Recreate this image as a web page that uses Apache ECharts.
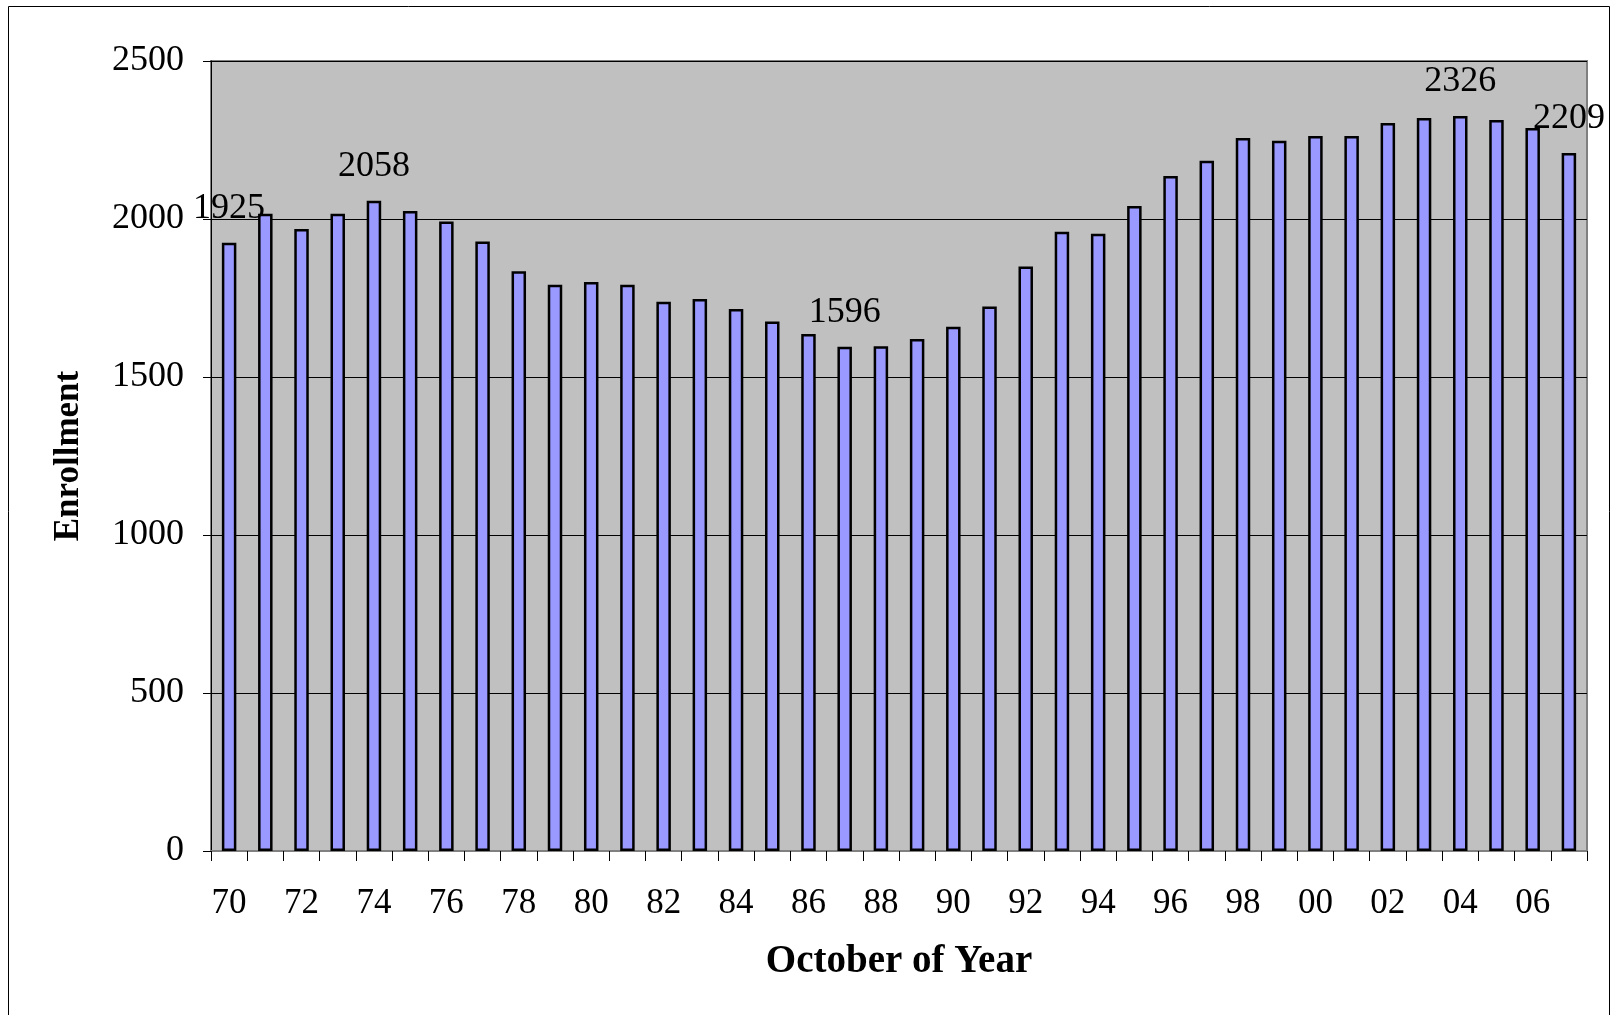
<!DOCTYPE html>
<html>
<head>
<meta charset="utf-8">
<script src="https://cdn.jsdelivr.net/npm/echarts@6/dist/echarts.min.js"></script>
<style>
  html, body { margin: 0; padding: 0; background: #fff; }
  #chart { width: 1612px; height: 1015px; }
</style>
</head>
<body>
<div id="chart"></div>
<script>
  // school years, October counts
  var years = ['70','71','72','73','74','75','76','77','78','79',
               '80','81','82','83','84','85','86','87','88','89',
               '90','91','92','93','94','95','96','97','98','99',
               '00','01','02','03','04','05','06','07'];
  var enrollment = [1925, 2017, 1968, 2017, 2058, 2025, 1992, 1929, 1835, 1792,
                    1801, 1792, 1738, 1747, 1715, 1676, 1636, 1596, 1597, 1620,
                    1659, 1723, 1850, 1960, 1953, 2041, 2136, 2184, 2256, 2248,
                    2263, 2263, 2304, 2320, 2326, 2313, 2288, 2209];
  var labeledYears = ['70', '74', '87', '04', '07'];
  var yTicks = [0, 500, 1000, 1500, 2000, 2500];

  var font = '"Liberation Serif", "Times New Roman", serif';

  var seriesData = enrollment.map(function (v, i) {
    var item = { value: v };
    if (labeledYears.indexOf(years[i]) >= 0) {
      item.label = { show: true };
    }
    return item;
  });

  var myChart = echarts.init(document.getElementById('chart'));
  var option = {
    animation: false,
    backgroundColor: '#fff',
    graphic: [
      {
        type: 'rect',
        shape: { x: 8.5, y: 6.5, width: 1601, height: 1020 },
        style: { fill: 'none', stroke: '#000', lineWidth: 1 },
        silent: true
      }
    ],
    grid: {
      left: 211,
      top: 61,
      right: 25,
      bottom: 164,
      show: true,
      backgroundColor: '#C0C0C0',
      borderColor: '#808080',
      borderWidth: 2
    },
    xAxis: {
      type: 'category',
      data: years,
      boundaryGap: true,
      name: 'October of Year',
      nameLocation: 'middle',
      nameGap: 91,
      nameTextStyle: { fontFamily: font, fontSize: 39, fontWeight: 'bold', color: '#000' },
      axisLine: { show: true, lineStyle: { color: '#808080', width: 2 } },
      axisTick: { show: true, interval: 0, length: 10, lineStyle: { color: '#000', width: 1 } },
      axisLabel: { interval: 1, margin: 35, fontFamily: font, fontSize: 35, color: '#000' }
    },
    yAxis: {
      type: 'value',
      min: yTicks[0],
      max: yTicks[yTicks.length - 1],
      interval: 500,
      name: 'Enrollment',
      nameLocation: 'middle',
      nameGap: 125,
      nameTextStyle: { fontFamily: font, fontSize: 35, fontWeight: 'bold', color: '#000' },
      axisLine: { show: true, lineStyle: { color: '#000', width: 1 } },
      axisTick: { show: true, length: 8, lineStyle: { color: '#000' } },
      axisLabel: {
        margin: 27,
        fontFamily: font,
        fontSize: 36,
        color: '#000',
        formatter: function (v) { return String(v); }
      },
      splitLine: { show: true, lineStyle: { color: '#000', width: 1 } }
    },
    series: [
      {
        type: 'bar',
        data: seriesData,
        barWidth: '40%',
        itemStyle: { color: '#9999FF', borderColor: '#000', borderWidth: 2.5 },
        label: {
          show: false,
          position: 'top',
          distance: 16,
          fontFamily: font,
          fontSize: 36,
          color: '#000'
        }
      }
    ]
  };
  myChart.setOption(option);
</script>
</body>
</html>
